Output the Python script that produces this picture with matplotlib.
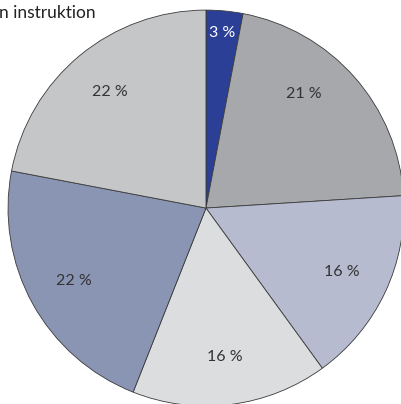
import numpy as np
import matplotlib
matplotlib.use("Agg")
from matplotlib import pyplot as plt

plt.rcParams['font.family'] = ['Lato', 'DejaVu Sans']

values = [3, 21, 16, 16, 22, 22]
colors = ['#2b3f97', '#a7a8ab', '#b6bbd0', '#dcdddf', '#8a94b3', '#c5c6c8']
label_colors = ['white', '#333333', '#333333', '#333333', '#333333', '#333333']
title = "n instruktion"

fig = plt.figure(figsize=(4.02, 4.04), dpi=100)
ax = fig.add_axes([0.0199, -0.005, 0.985, 0.980])

wedges, texts, autotexts = ax.pie(
    values, colors=colors, startangle=90, counterclock=False,
    autopct=lambda p: "%d %%" % round(p), pctdistance=0.76,
    wedgeprops={'edgecolor': '#3a3a3a', 'linewidth': 0.6},
    textprops={'fontsize': 11.5})

for w, t, c in zip(wedges, autotexts, label_colors):
    t.set_color(c)
    if w.theta2 - w.theta1 < 20:
        ang = np.deg2rad((w.theta1 + w.theta2) / 2)
        t.set_position((0.89 * np.cos(ang), 0.89 * np.sin(ang)))
    elif w.theta2 - w.theta1 < 80 and w.theta1 > 0:
        # label of the second slice sits a bit above its middle
        ang = np.deg2rad((w.theta1 + w.theta2) / 2 + 8)
        t.set_position((0.76 * np.cos(ang), 0.76 * np.sin(ang)))

ax.set_xlim(-1, 1)
ax.set_ylim(-1, 1)
ax.set_aspect('equal')
ax.axis('off')

fig.text(-0.003, 0.968, title, fontsize=12.5, color='#222222', ha='left', va='center')

fig.savefig("out.png", dpi=100)
